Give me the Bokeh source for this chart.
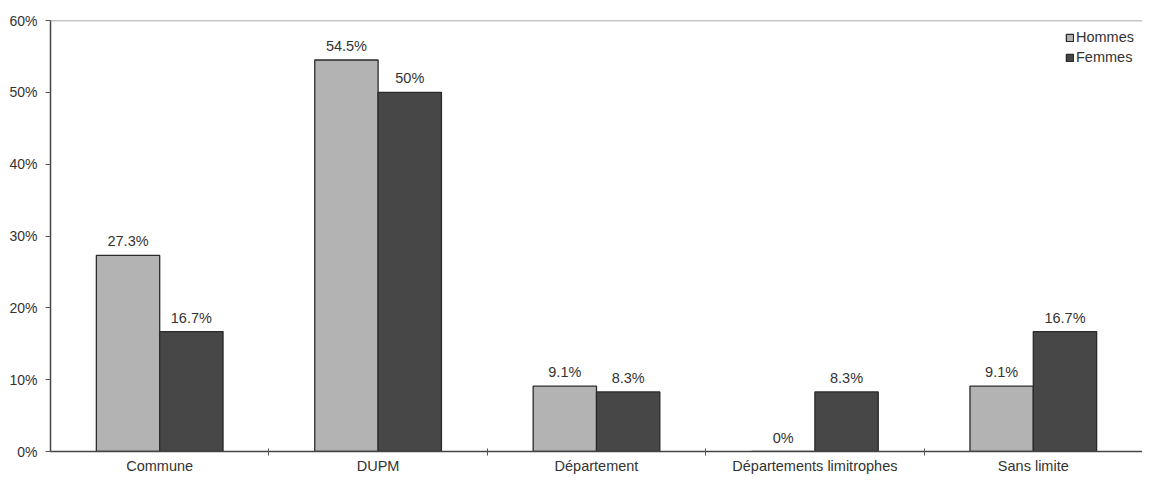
from bokeh.plotting import figure
from bokeh.models import Range1d, FixedTicker, PrintfTickFormatter, ColumnDataSource, Span, LabelSet, Legend, LegendItem
from bokeh.core.properties import value
from bokeh.embed import file_html
from bokeh.resources import INLINE

categories = ["Commune", "DUPM", "Département", "Départements limitrophes", "Sans limite"]
hommes = [27.3, 54.5, 9.1, 0.0, 9.1]
femmes = [16.7, 50.0, 8.3, 8.3, 16.7]
y_ticks = [0, 10, 20, 30, 40, 50, 60]

def fmt(v):
    return ("%g" % v) + "%"

centers = [i + 0.5 for i in range(len(categories))]
bw = 0.29
src_h = ColumnDataSource(dict(x=[c - bw / 2 for c in centers], top=hommes, lab=[fmt(v) for v in hommes]))
src_f = ColumnDataSource(dict(x=[c + bw / 2 for c in centers], top=femmes, lab=[fmt(v) for v in femmes]))

FONT = "Liberation Sans"
TXT = "#333333"

p = figure(width=1142, height=476, output_backend="svg", toolbar_location=None,
           x_range=Range1d(0, len(categories)), y_range=Range1d(0, 60),
           min_border_left=50, min_border_top=20, min_border_right=0, min_border_bottom=20)
p.outline_line_color = None
p.xgrid.visible = False
p.ygrid.visible = False
p.background_fill_color = "white"

rh = p.vbar(x="x", top="top", width=bw, source=src_h, fill_color="#b3b3b3", line_color="#2a2a2a", line_width=1.3)
rf = p.vbar(x="x", top="top", width=bw, source=src_f, fill_color="#474747", line_color="#2a2a2a", line_width=1.3)

for src in (src_h, src_f):
    p.add_layout(LabelSet(x="x", y="top", text="lab", source=src, text_align="center", text_baseline="bottom",
                          y_offset=6, text_font=value(FONT), text_font_size="14.5px", text_color=TXT))

p.add_layout(Span(location=60, dimension="width", line_color="#8a8a8a", line_width=1.5))

p.xaxis.ticker = FixedTicker(ticks=centers, minor_ticks=[1, 2, 3, 4])
p.xaxis.major_label_overrides = {c: n for c, n in zip(centers, categories)}
p.xaxis.major_tick_line_color = None
p.xaxis.major_tick_out = 0
p.xaxis.major_tick_in = 0
p.xaxis.minor_tick_out = 4
p.xaxis.minor_tick_in = 3
p.xaxis.minor_tick_line_color = "#555555"
p.xaxis.axis_line_color = "#444444"
p.xaxis.axis_line_width = 1.5
p.xaxis.major_label_text_font = FONT
p.xaxis.major_label_text_font_size = "14.5px"
p.xaxis.major_label_text_color = TXT
p.xaxis.major_label_standoff = 2

p.yaxis.ticker = FixedTicker(ticks=y_ticks)
p.yaxis.formatter = PrintfTickFormatter(format="%d%%")
p.yaxis.minor_tick_line_color = None
p.yaxis.major_tick_out = 5
p.yaxis.major_tick_in = 0
p.yaxis.major_tick_line_color = "#555555"
p.yaxis.axis_line_color = "#444444"
p.yaxis.axis_line_width = 1.5
p.yaxis.major_label_text_font = FONT
p.yaxis.major_label_text_font_size = "14px"
p.yaxis.major_label_text_color = TXT
p.yaxis.major_label_standoff = 8

legend = Legend(items=[LegendItem(label="Hommes", renderers=[rh]), LegendItem(label="Femmes", renderers=[rf])],
                location="top_right", border_line_color=None, background_fill_alpha=0,
                glyph_width=9, glyph_height=9, label_text_font=FONT, label_text_font_size="14.5px",
                label_text_color=TXT, spacing=2, padding=2, margin=8, label_standoff=2, label_height=18)
p.add_layout(legend)

open("out.html", "w").write(file_html(p, INLINE))
